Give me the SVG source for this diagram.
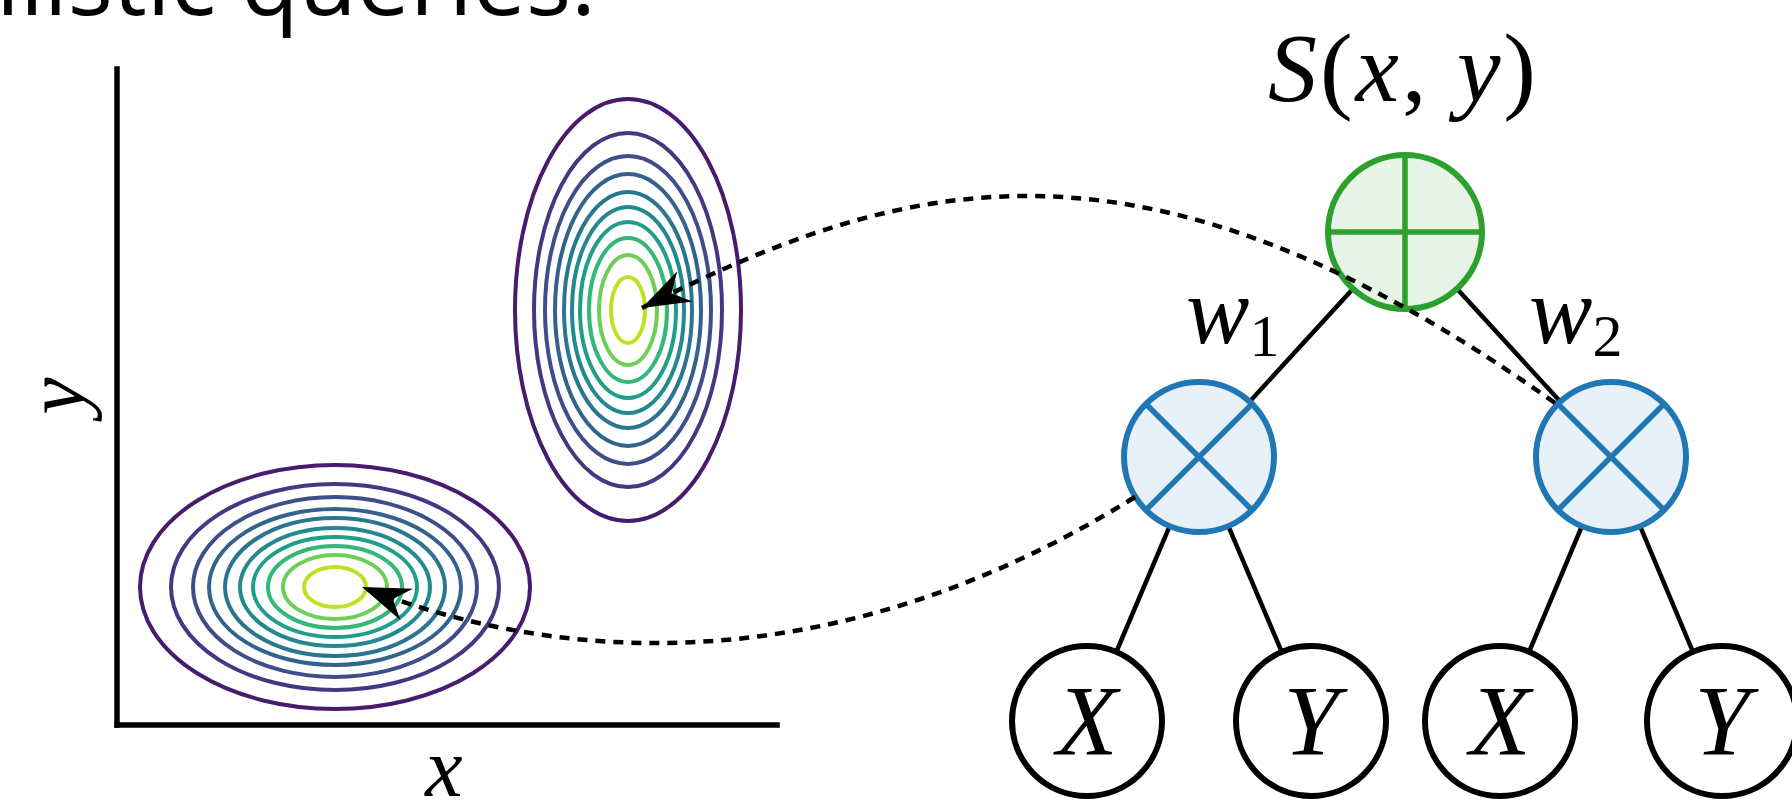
<svg xmlns="http://www.w3.org/2000/svg" width="1792" height="807" viewBox="0 0 1792 807">
<style>
.ax{stroke:#000;stroke-width:5.5;fill:none;stroke-linecap:square}
.ct{fill:none;stroke-width:4}
.edge{stroke:#000;stroke-width:4.5;fill:none}
.sum{fill:#e8f4e8;stroke:#2ca02c;stroke-width:6}
.sumx{stroke:#2ca02c;stroke-width:5.5}
.prod{fill:#e8f0f8;stroke:#1f77b4;stroke-width:6}
.prodx{stroke:#1f77b4;stroke-width:5.5}
.leaf{fill:#fff;stroke:#000;stroke-width:6}
.math{font-family:"Liberation Serif","DejaVu Serif",serif;fill:#000}
.it{font-style:italic}
.dash{fill:none;stroke:#000;stroke-width:4.5;stroke-dasharray:10 8}
.top{font-family:"Open Sans","Liberation Sans",sans-serif;font-weight:500;fill:#000}
</style>
<defs>
<marker id="ah" viewBox="0 0 50 36" refX="48" refY="18" markerWidth="50" markerHeight="36" markerUnits="userSpaceOnUse" orient="auto">
<path d="M48,18 L0,1 L15,18 L0,35 Z" fill="#000"/>
</marker>
</defs>
<rect width="1792" height="807" fill="#fff"/>

<text class="top" x="596" y="15" font-size="96" text-anchor="end" textLength="600" lengthAdjust="spacingAndGlyphs">ilistic queries.</text>

<g id="plot">
<g id="axes">
<line class="ax" x1="117" y1="69" x2="117" y2="725"/>
<line class="ax" x1="117" y1="725" x2="777" y2="725"/>
<text class="math it" x="444" y="796" font-size="84" text-anchor="middle">x</text>
<text class="math it" font-size="84" text-anchor="middle" transform="translate(84,396) rotate(-90)">y</text>
</g>
<g id="gauss-bottom">
<ellipse class="ct" cx="335" cy="587" rx="195" ry="122" stroke="#471b6e"/>
<ellipse class="ct" cx="335" cy="587" rx="164" ry="103" stroke="#453781"/>
<ellipse class="ct" cx="335" cy="587" rx="142" ry="90" stroke="#3d4e8a"/>
<ellipse class="ct" cx="335" cy="587" rx="126" ry="78" stroke="#33638d"/>
<ellipse class="ct" cx="335" cy="587" rx="110" ry="69" stroke="#2a768e"/>
<ellipse class="ct" cx="335" cy="587" rx="95" ry="59" stroke="#22898e"/>
<ellipse class="ct" cx="335" cy="587" rx="82" ry="50" stroke="#1f9e89"/>
<ellipse class="ct" cx="335" cy="587" rx="67" ry="41" stroke="#35b779"/>
<ellipse class="ct" cx="335" cy="587" rx="52" ry="32" stroke="#6ece58"/>
<ellipse class="ct" cx="335" cy="587" rx="31" ry="20" stroke="#c2df23"/>
</g>
<g id="gauss-top">
<ellipse class="ct" cx="628" cy="310" rx="113" ry="211" stroke="#471b6e"/>
<ellipse class="ct" cx="628" cy="310" rx="94" ry="177" stroke="#453781"/>
<ellipse class="ct" cx="628" cy="310" rx="83" ry="154" stroke="#3d4e8a"/>
<ellipse class="ct" cx="628" cy="310" rx="73" ry="136" stroke="#33638d"/>
<ellipse class="ct" cx="628" cy="310" rx="64" ry="118" stroke="#2a768e"/>
<ellipse class="ct" cx="628" cy="310" rx="56" ry="103" stroke="#22898e"/>
<ellipse class="ct" cx="628" cy="310" rx="48" ry="88" stroke="#1f9e89"/>
<ellipse class="ct" cx="628" cy="310" rx="39" ry="72" stroke="#35b779"/>
<ellipse class="ct" cx="628" cy="310" rx="29" ry="55" stroke="#6ece58"/>
<ellipse class="ct" cx="628" cy="310" rx="17" ry="33" stroke="#c2df23"/>
</g>
</g>

<g id="edges">
<line class="edge" x1="1405" y1="232" x2="1199" y2="457"/>
<line class="edge" x1="1405" y1="232" x2="1611" y2="457"/>
<line class="edge" x1="1199" y1="457" x2="1087" y2="721"/>
<line class="edge" x1="1199" y1="457" x2="1311" y2="721"/>
<line class="edge" x1="1611" y1="457" x2="1500" y2="721"/>
<line class="edge" x1="1611" y1="457" x2="1722" y2="721"/>
</g>

<g id="sum">
<circle class="sum" cx="1405" cy="232" r="77"/>
<line class="sumx" x1="1328" y1="232" x2="1482" y2="232"/>
<line class="sumx" x1="1405" y1="155" x2="1405" y2="309"/>
</g>
<g id="prod1">
<circle class="prod" cx="1199" cy="457" r="75"/>
<line class="prodx" x1="1146" y1="404" x2="1252" y2="510"/>
<line class="prodx" x1="1252" y1="404" x2="1146" y2="510"/>
</g>
<g id="prod2">
<circle class="prod" cx="1611" cy="457" r="75"/>
<line class="prodx" x1="1558" y1="404" x2="1664" y2="510"/>
<line class="prodx" x1="1664" y1="404" x2="1558" y2="510"/>
</g>
<g id="leaf1"><circle class="leaf" cx="1087" cy="721" r="75"/><text class="math it" x="1087" y="754" font-size="100" text-anchor="middle">X</text></g>
<g id="leaf2"><circle class="leaf" cx="1311" cy="721" r="75"/><text class="math it" x="1311" y="754" font-size="100" text-anchor="middle">Y</text></g>
<g id="leaf3"><circle class="leaf" cx="1500" cy="721" r="75"/><text class="math it" x="1500" y="754" font-size="100" text-anchor="middle">X</text></g>
<g id="leaf4"><circle class="leaf" cx="1722" cy="721" r="75"/><text class="math it" x="1722" y="754" font-size="100" text-anchor="middle">Y</text></g>

<g id="labels">
<text class="math" x="1268" y="101" font-size="98" textLength="268" lengthAdjust="spacing"><tspan class="it">S</tspan>(<tspan class="it">x</tspan>, <tspan class="it">y</tspan>)</text>
<text class="math" x="1186" y="343" font-size="95"><tspan class="it">w</tspan><tspan font-size="60" dy="13">1</tspan></text>
<text class="math" x="1529" y="343" font-size="95"><tspan class="it">w</tspan><tspan font-size="60" dy="13">2</tspan></text>
</g>

<g id="connectors">
<path class="dash" d="M1555,403 C1140,108 900,178 642,308" marker-end="url(#ah)"/>
<path class="dash" d="M1135,497 C870,662 600,680 362,587" marker-end="url(#ah)"/>
</g>
</svg>
